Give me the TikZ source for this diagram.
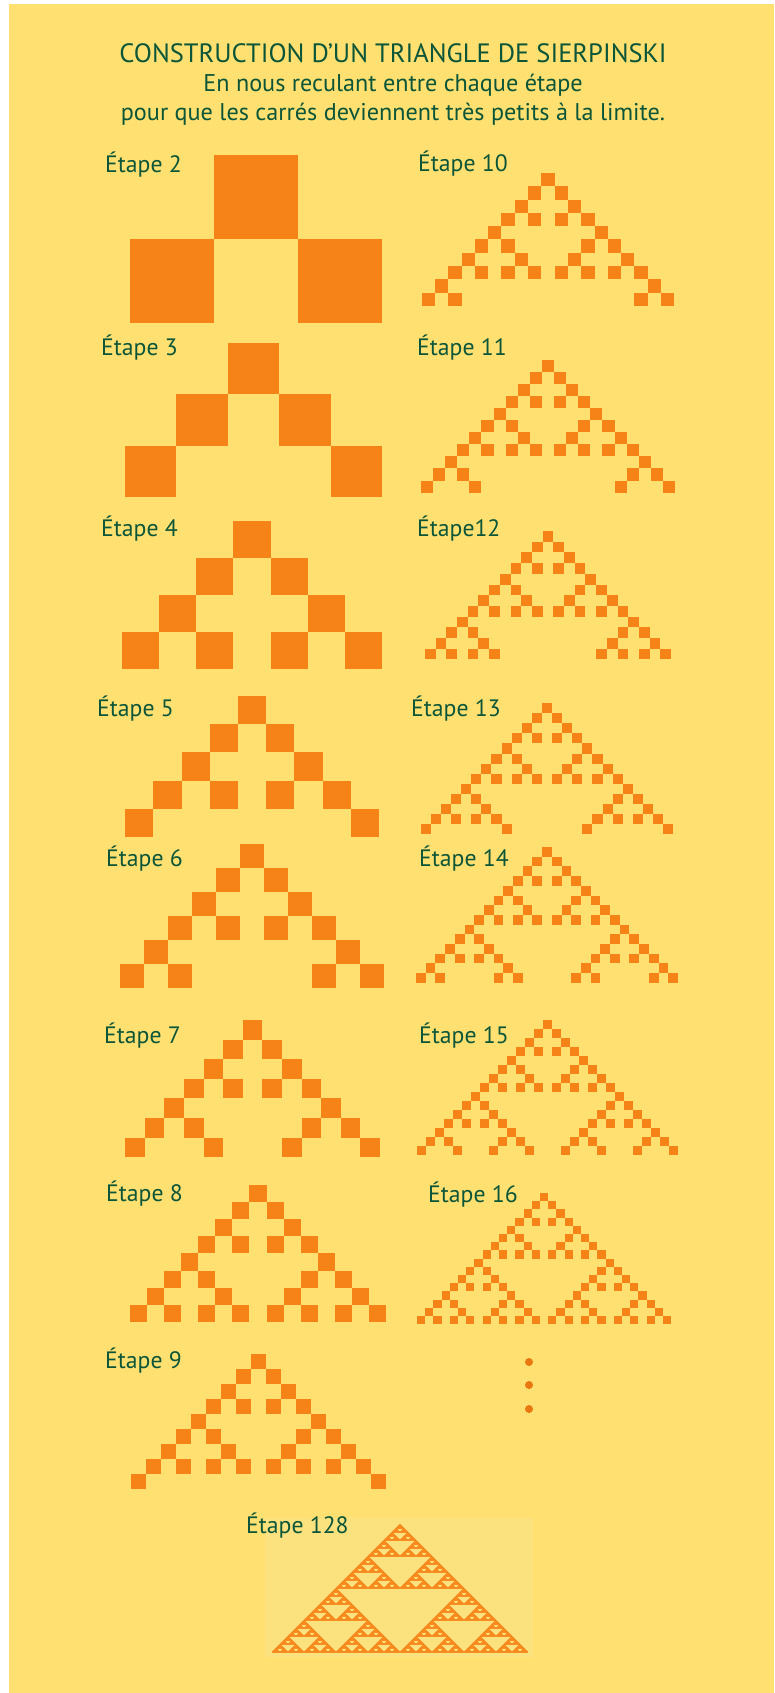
\documentclass[tikz,border=0pt]{standalone}
\usepackage{fontspec}
\setmainfont{PT Sans}
\usepackage{xcolor}
\usetikzlibrary{positioning}
\definecolor{fondjaune}{HTML}{FFE070}
\definecolor{cadrejaune}{HTML}{FCE27F}
\definecolor{carreorange}{HTML}{F68318}
\definecolor{pointorange}{HTML}{E8780F}
\definecolor{texteVert}{HTML}{0B5539}

% one block of the Pascal triangle mod 2: size, row, column
\newcommand\sqblock[3]{%
  \ifnum#2<\nrows\relax
    \ifnum#1=1\relax
      \fill[cell] (#3-0.5,#2) rectangle ++(1,1);%
    \else
      \edef\sqnext{%
        \noexpand\sqblock{\the\numexpr#1/2\relax}{#2}{#3}%
        \noexpand\sqblock{\the\numexpr#1/2\relax}{\the\numexpr#2+#1/2\relax}{\the\numexpr#3-#1/2\relax}%
        \noexpand\sqblock{\the\numexpr#1/2\relax}{\the\numexpr#2+#1/2\relax}{\the\numexpr#3+#1/2\relax}}%
      \sqnext
    \fi
  \fi}
% rows, block size, apex x, top y, cell width
\newcommand\etapetri[5]{%
  \def\nrows{#1}%
  \begin{scope}[shift={(#3,#4)}, x=#5pt, y=-#5pt]
    \sqblock{#2}{0}{0}
  \end{scope}}

\begin{document}
\begin{tikzpicture}[
  x=1pt, y=-1pt,
  titre/.style={anchor=base, inner sep=0pt, text=texteVert,
    font=\fontsize{24.2}{28}\selectfont},
  etiquette/.style={anchor=base west, inner sep=0pt, text=texteVert,
    font=\fontsize{23.7}{28}\selectfont},
  cell/.style={fill=carreorange},
]
  \useasboundingbox (0,0) rectangle (774,1693);
  \fill[white] (0,0) rectangle (774,1693);
  \fill[fondjaune] (9,4) rectangle (774,1693);

  % Title
  \node[titre, font=\fontsize{26.5}{30}\selectfont] (t1) at (393,63)
    {CONSTRUCTION D’UN TRIANGLE DE SIERPINSKI};
  \node[titre] (t2) at (393,92) {En nous reculant entre chaque étape};
  \node[titre] (t3) at (393,121) {pour que les carrés deviennent très petits à la limite.};

  % Left column
  \node[etiquette] (lbl2) at (105,173) {Étape 2};
  \node[etiquette] (lbl3) at (101,355) {Étape 3};
  \node[etiquette] (lbl4) at (101,536) {Étape 4};
  \node[etiquette] (lbl5) at (97,716) {Étape 5};
  \node[etiquette] (lbl6) at (106,866) {Étape 6};
  \node[etiquette] (lbl7) at (104,1043) {Étape 7};
  \node[etiquette] (lbl8) at (106,1201) {Étape 8};
  \node[etiquette] (lbl9) at (105,1368) {Étape 9};
  \etapetri{2}{2}{256}{155}{84.2}
  \etapetri{3}{4}{253.5}{343}{51.4}
  \etapetri{4}{4}{252}{521}{37.1}
  \etapetri{5}{8}{252}{696}{28.2}
  \etapetri{6}{8}{252}{844}{24}
  \etapetri{7}{8}{252.5}{1020}{19.6}
  \etapetri{8}{8}{258}{1185}{17.1}
  \etapetri{9}{16}{258.5}{1354}{15}

  % Right column
  \node[etiquette] (lbl10) at (418,172) {Étape 10};
  \node[etiquette] (lbl11) at (417,355) {Étape 11};
  \node[etiquette] (lbl12) at (417,536) {Étape12};
  \node[etiquette] (lbl13) at (411,716) {Étape 13};
  \node[etiquette] (lbl14) at (419,866) {Étape 14};
  \node[etiquette] (lbl15) at (419,1043) {Étape 15};
  \node[etiquette] (lbl16) at (428,1202) {Étape 16};
  \etapetri{10}{16}{548}{173}{13.3}
  \etapetri{11}{16}{548}{359.5}{12.1}
  \etapetri{12}{16}{548}{531}{10.7}
  \etapetri{13}{16}{547}{703}{10.1}
  \etapetri{14}{16}{547}{847}{9.7}
  \etapetri{15}{16}{547}{1020}{9.0}
  \etapetri{16}{16}{544}{1193}{8.2}
  \foreach \py in {1362,1385,1409}
    \fill[pointorange] (529,\py) circle (4);

  % Step 128
  \fill[cadrejaune] (265,1518) rectangle (533,1657);
  \node[etiquette] (lbl128) at (246,1533) {Étape 128};
  \begin{scope}[cell/.style={fill=carreorange!90!fondjaune,
      draw=carreorange!90!fondjaune, line width=0.7pt}]
    \etapetri{128}{128}{399.5}{1524}{1}
  \end{scope}
\end{tikzpicture}
\end{document}
